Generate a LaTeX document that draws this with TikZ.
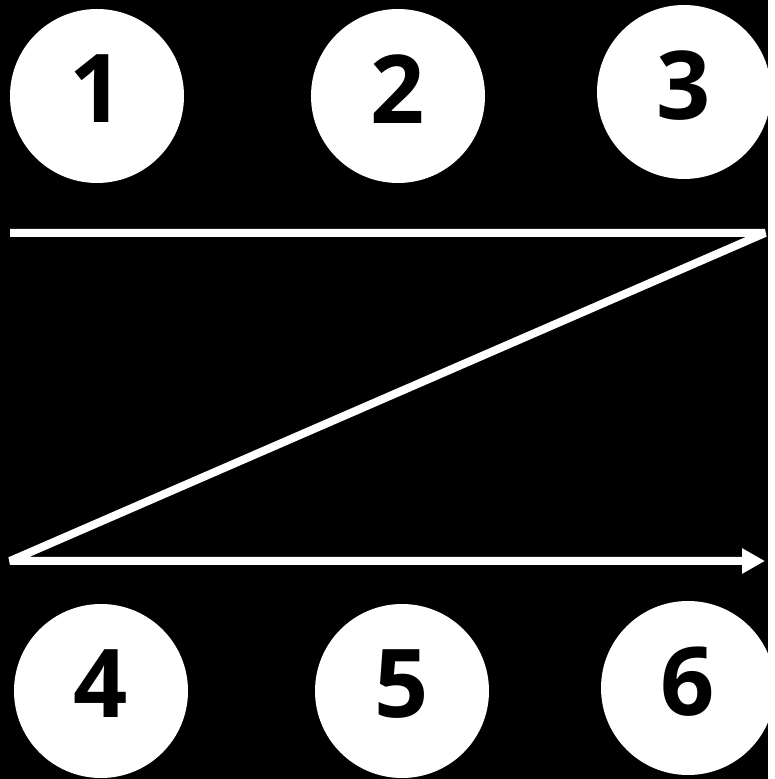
\documentclass[tikz,border=0pt]{standalone}
\usepackage{fontspec}
\setmainfont{Open Sans}
\usetikzlibrary{arrows.meta}
\tikzset{
DOT/.style={circle,fill=white,draw=none,minimum size=174pt,inner sep=0pt,text depth=14pt,text=black,font=\fontsize{95}{95}\selectfont\bfseries},
ZIG/.style={draw=white,line join=bevel,line cap=butt,line width=8pt},
}
\begin{document}
\begin{tikzpicture}[x=1pt,y=1pt]
	\fill[black] (0,0) rectangle (768,779); %background
	% top row
	\node[DOT] (n1) at (97,683) {1};
	\node[DOT] (n2) at (398,683) {2};
	\node[DOT] (n3) at (684,687) {3};
	% bottom row
	\node[DOT] (n4) at (101,88) {4};
	\node[DOT] (n5) at (402,88) {5};
	\node[DOT] (n6) at (688,91) {6};
	% reading order
	\coordinate (zA) at (10,546);
	\coordinate (zB) at (765,546);
	\coordinate (zC) at (10,218);
	\coordinate (zD) at (765,218);
	\path[ZIG,-{Triangle[length=23pt,width=24pt]}] (zA) -- (zB) -- (zC) -- (zD);
\end{tikzpicture}
\end{document}
